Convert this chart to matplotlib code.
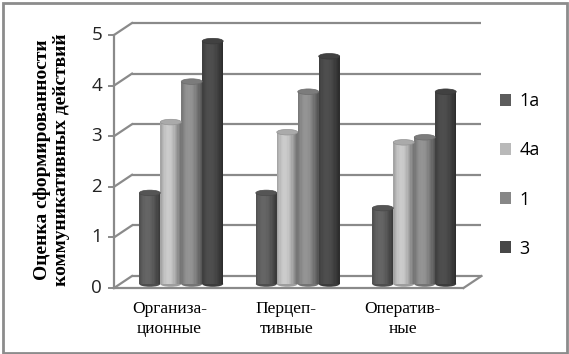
import numpy as np
import matplotlib
matplotlib.use("Agg")
import matplotlib.pyplot as plt
from matplotlib import transforms
from matplotlib.patches import Ellipse, Patch, Rectangle
from matplotlib.colors import to_rgb

categories = ["Организа-\nционные", "Перцеп-\nтивные", "Оператив-\nные"]
series_names = ["1а", "4а", "1", "3"]
values_1a = [1.8, 1.8, 1.5]
values_4a = [3.2, 3.0, 2.8]
values_1 = [4.0, 3.8, 2.9]
values_3 = [4.8, 4.5, 3.8]
series_values = [values_1a, values_4a, values_1, values_3]
series_colors = ["#5c5c5c", "#b9b9b9", "#878787", "#474747"]
yticks = [0, 1, 2, 3, 4, 5]

W, H = 569, 354
fig = plt.figure(figsize=(W / 100, H / 100), dpi=100)
fig.patch.set_facecolor("white")

# bar plane axes
ax = fig.add_axes([123 / W, 70 / H, 349.5 / W, 253 / H])
ax.set_xlim(-0.5, 2.5)
ax.set_ylim(0, 5)
ax.axis("off")

front = transforms.offset_copy(ax.transData, fig=fig, x=-9, y=-4, units="dots")
back = transforms.offset_copy(ax.transData, fig=fig, x=9, y=8, units="dots")

grid_c = "#8a8a8a"
# back wall gridlines and left wall diagonals
for v in yticks:
    ax.plot([-0.5, 2.5], [v, v], transform=back, color=grid_c, lw=1.6,
            clip_on=False, zorder=1, solid_capstyle="butt")
    p0 = front.transform((-0.5, v))
    p1 = back.transform((-0.5, v))
    fig.add_artist(plt.Line2D([p0[0] / W, p1[0] / W], [p0[1] / H, p1[1] / H],
                              transform=fig.transFigure, color=grid_c, lw=1.6))
    ax.plot([-0.5, -0.5], [v, v], transform=front, color=grid_c, lw=1.2,
            clip_on=False, marker=0, markersize=4, markeredgewidth=1.2, mec=grid_c)
    ax.text(-0.5, v, str(v), ha="right", va="center",
            fontsize=13.5, color="#222222", family="Open Sans",
            clip_on=False,
            transform=transforms.offset_copy(front, fig=fig, x=-12, y=0, units="dots"))

# front left axis
ax.plot([-0.5, -0.5], [0, 5], transform=front, color=grid_c, lw=1.6, clip_on=False)
# floor front edge
ax.plot([-0.5, 2.5], [0, 0], transform=front, color=grid_c, lw=1.6, clip_on=False)
# floor right diagonal
p0 = front.transform((2.5, 0))
p1 = back.transform((2.5, 0))
fig.add_artist(plt.Line2D([p0[0] / W, p1[0] / W], [p0[1] / H, p1[1] / H],
                          transform=fig.transFigure, color=grid_c, lw=1.6))

# cylinders
bw = 0.18
nstrip = 16
offsets = [-1.5 * bw, -0.5 * bw, 0.5 * bw, 1.5 * bw]
ell_h = 0.11
for si, (vals, col) in enumerate(zip(series_values, series_colors)):
    base = np.array(to_rgb(col))
    for ci, v in enumerate(vals):
        x0 = ci + offsets[si] - bw / 2
        ax.add_patch(Ellipse((x0 + bw / 2, 0), bw, ell_h, facecolor=base * 0.85,
                             edgecolor="none", zorder=3, clip_on=False))
        for k in range(nstrip):
            t = (k + 0.5) / nstrip
            f = 0.78 + 0.32 * np.cos(np.pi * (t - 0.38) * 1.1)
            c = np.clip(base * f, 0, 1)
            ax.bar(x0 + k * bw / nstrip, v, width=bw / nstrip * 1.05, align="edge",
                   color=c, edgecolor="none", zorder=3, clip_on=False)
        ax.add_patch(Ellipse((x0 + bw / 2, v), bw, ell_h,
                             facecolor=np.clip(base * 0.92, 0, 1),
                             edgecolor=np.clip(base * 0.8, 0, 1), lw=0.5,
                             zorder=4, clip_on=False))

# category labels
cat_tr = transforms.blended_transform_factory(ax.transData, fig.transFigure)
for ci, cat in enumerate(categories):
    ax.text(ci - 0.1, 1 - 319 / H, cat, transform=cat_tr, ha="center", va="center",
            fontsize=12.5, family="Liberation Serif", linespacing=1.4,
            color="black", clip_on=False)

# y label
fig.text(52 / W, 1 - 160 / H, "Оценка сформированности\nкоммуникативных действий",
         rotation=90, ha="center", va="center", fontsize=14, fontweight="bold",
         family="Liberation Serif", linespacing=1.15)

# legend
handles = [Patch(facecolor=c, edgecolor="none") for c in series_colors]
fig.legend(handles, series_names, loc="center left",
           bbox_to_anchor=(484 / W, 1 - 175 / H), frameon=False,
           prop={"family": "Open Sans", "size": 13},
           handlelength=0.6, handleheight=0.6, handletextpad=0.45,
           labelspacing=1.72)

# border
fig.add_artist(Rectangle((2.5 / W, 1.5 / H), 564 / W, 350 / H,
                         transform=fig.transFigure, fill=False,
                         edgecolor="#8c8c8c", lw=2))

fig.savefig("out.png", dpi=100)
